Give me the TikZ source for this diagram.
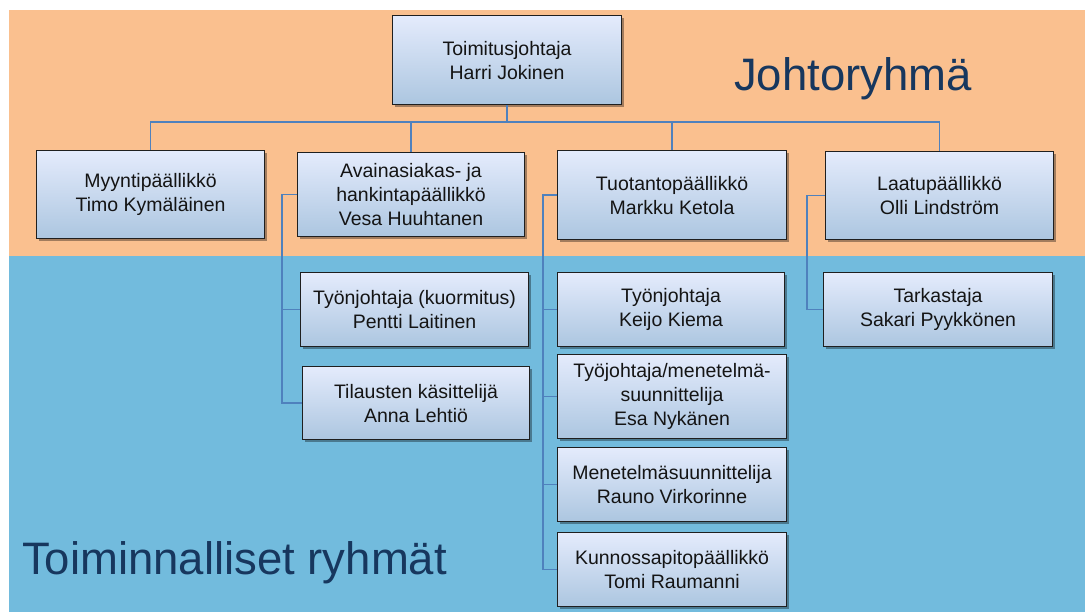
\documentclass[tikz,border=0pt]{standalone}
\usepackage{fontspec}
\setmainfont{Liberation Sans}
\usetikzlibrary{shadows}
\definecolor{leadbg}{RGB}{250,192,143}
\definecolor{teambg}{RGB}{114,187,221}
\definecolor{titleblue}{RGB}{23,55,94}
\definecolor{boxtop}{RGB}{228,235,252}
\definecolor{boxmid}{RGB}{188,210,248}
\definecolor{boxbot}{RGB}{172,198,224}
\definecolor{linkblue}{RGB}{79,129,189}
\begin{document}
\begin{tikzpicture}[x=1pt,y=-1pt,
  orgbox/.style={draw=black!88, line width=1.1pt, rectangle, inner sep=0pt,
    anchor=north west, align=center,
    top color=boxtop, middle color=boxmid, bottom color=boxbot,
    drop shadow={shadow xshift=2.5pt, shadow yshift=-2.5pt, opacity=0.35, fill=black},
    font=\fontsize{19.5}{24}\selectfont, text=black!92},
  conn/.style={draw=linkblue, line width=1.4pt},
  grouptitle/.style={anchor=base west, inner sep=0pt, text=titleblue,
    font=\fontsize{45.5}{50}\selectfont}]
\useasboundingbox (0,0) rectangle (1085,612);
% group backgrounds
\fill[leadbg] (9,10) rectangle (1085,256);
\fill[teambg] (9,256) rectangle (1085,612);
\node[grouptitle] (lead) at (734,91) {Johtoryhmä};
\node[grouptitle] (teams) at (22,574) {Toiminnalliset ryhmät};
% management level
\node[orgbox, minimum width=229pt, minimum height=89pt] (ceo) at (392,15) {Toimitusjohtaja\\Harri Jokinen};
\node[orgbox, minimum width=228pt, minimum height=88pt] (sales) at (36,150) {Myyntipäällikkö\\Timo Kymäläinen};
\node[orgbox, minimum width=227pt, minimum height=84pt] (key) at (297,152) {Avainasiakas- ja\\hankintapäällikkö\\Vesa Huuhtanen};
\node[orgbox, minimum width=229pt, minimum height=89pt] (prod) at (557,150) {Tuotantopäällikkö\\Markku Ketola};
\node[orgbox, minimum width=228pt, minimum height=88pt] (qual) at (825,151) {Laatupäällikkö\\Olli Lindström};
% operative level
\node[orgbox, minimum width=228pt, minimum height=74pt] (load) at (300,272) {Työnjohtaja (kuormitus)\\Pentti Laitinen};
\node[orgbox, minimum width=227pt, minimum height=73pt] (orders) at (302,366) {Tilausten käsittelijä\\Anna Lehtiö};
\node[orgbox, minimum width=227pt, minimum height=74pt] (fore) at (557,272) {Työnjohtaja\\Keijo Kiema};
\node[orgbox, minimum width=229pt, minimum height=84pt] (method1) at (557,354) {Työjohtaja/menetelmä-\\suunnittelija\\Esa Nykänen};
\node[orgbox, minimum width=229pt, minimum height=74pt] (method2) at (557,447) {Menetelmäsuunnittelija\\Rauno Virkorinne};
\node[orgbox, minimum width=229pt, minimum height=74pt] (maint) at (557,532) {Kunnossapitopäällikkö\\Tomi Raumanni};
\node[orgbox, minimum width=229pt, minimum height=74pt] (insp) at (823,272) {Tarkastaja\\Sakari Pyykkönen};
% connectors: bus below the CEO, side brackets for each department
\coordinate (bus) at (0,122);
\draw[conn] (ceo.south) -- (ceo.south |- bus) -| (sales.north);
\draw[conn] (ceo.south |- bus) -| (key.north);
\draw[conn] (ceo.south |- bus) -| (prod.north);
\draw[conn] (ceo.south |- bus) -| (qual.north);
\draw[conn] (key.west) -- ++(-15,0) |- (load.west);
\draw[conn] (key.west) -- ++(-15,0) |- (orders.west);
\draw[conn] (prod.west) -- ++(-14,0) |- (fore.west);
\draw[conn] (prod.west) -- ++(-14,0) |- (method1.west);
\draw[conn] (prod.west) -- ++(-14,0) |- (method2.west);
\draw[conn] (prod.west) -- ++(-14,0) |- (maint.west);
\draw[conn] (qual.west) -- ++(-18,0) |- (insp.west);
\end{tikzpicture}
\end{document}
